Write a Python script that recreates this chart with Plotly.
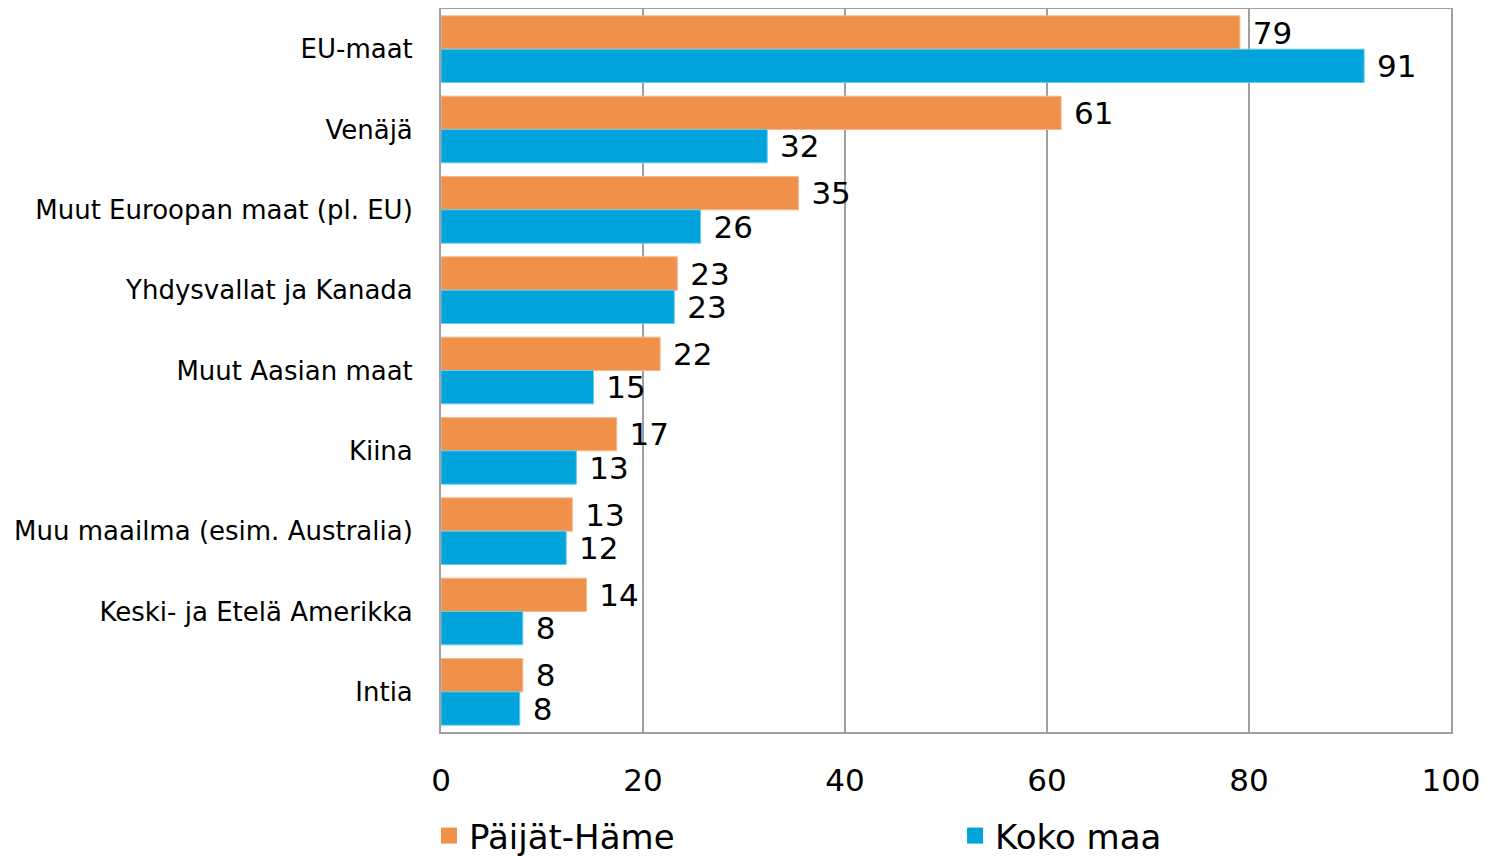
import plotly.graph_objects as go

# alueet, ylhäältä alas
categories = [
    "EU-maat",
    "Venäjä",
    "Muut Euroopan maat (pl. EU)",
    "Yhdysvallat ja Kanada",
    "Muut Aasian maat",
    "Kiina",
    "Muu maailma (esim. Australia)",
    "Keski- ja Etelä Amerikka",
    "Intia",
]

paijat_hame = [79.1, 61.4, 35.4, 23.4, 21.7, 17.4, 13.0, 14.4, 8.1]
koko_maa = [91.4, 32.3, 25.7, 23.1, 15.1, 13.4, 12.4, 8.1, 7.8]

x_ticks = [0, 20, 40, 60, 80, 100]

FONT = "DejaVu Sans"
ORANGE = "#F0914B"
BLUE = "#00A3DA"

fig = go.Figure()

for name, values, color, edge, leg in [
    ("Päijät-Häme", paijat_hame, ORANGE, "#F7B98C", "legend"),
    ("Koko maa", koko_maa, BLUE, "#66CCEE", "legend2"),
]:
    fig.add_trace(go.Bar(
        y=categories,
        x=values,
        orientation="h",
        name=name,
        showlegend=False,
        marker=dict(color=color, line=dict(color=edge, width=1)),
        texttemplate=" %{x:.0f}",
        textposition="outside",
        constraintext="none",
        cliponaxis=False,
        textfont=dict(size=31, color="black", family=FONT),
    ))
    # selitteen neliö, kummallekin oma selite
    fig.add_trace(go.Scatter(
        x=[None],
        y=[None],
        mode="markers",
        name=name,
        legend=leg,
        marker=dict(symbol="square", size=19, color=color),
    ))

legend_style = dict(
    orientation="h",
    xanchor="left", xref="container",
    y=0.0236, yanchor="middle", yref="container",
    font=dict(size=34),
    itemsizing="trace",
    itemwidth=30,
)

# sivulla on 8 px reunus, joten kuva on sen verran pienempi
fig.update_layout(
    width=1487,
    height=848,
    barmode="group",
    bargap=0.17,
    bargroupgap=0,
    plot_bgcolor="white",
    paper_bgcolor="white",
    margin=dict(l=433, r=44, t=1, b=124, autoexpand=False),
    font=dict(family=FONT, color="black"),
    legend=dict(x=0.2831, **legend_style),
    legend2=dict(x=0.6369, **legend_style),
)

fig.update_xaxes(
    range=[0, 100],
    tickvals=x_ticks,
    tickfont=dict(size=31),
    showgrid=True,
    gridcolor="#A0A0A0",
    gridwidth=2,
    showline=True,
    linecolor="#A0A0A0",
    linewidth=2,
    mirror=True,
    ticks="",
    ticklabelstandoff=20,
    zeroline=False,
    automargin=False,
)

fig.update_yaxes(
    autorange="reversed",
    tickfont=dict(size=26),
    showline=True,
    linecolor="#A0A0A0",
    linewidth=2,
    mirror=True,
    ticks="",
    ticklabelstandoff=21,
    automargin=False,
)

fig.write_html("out.html")
